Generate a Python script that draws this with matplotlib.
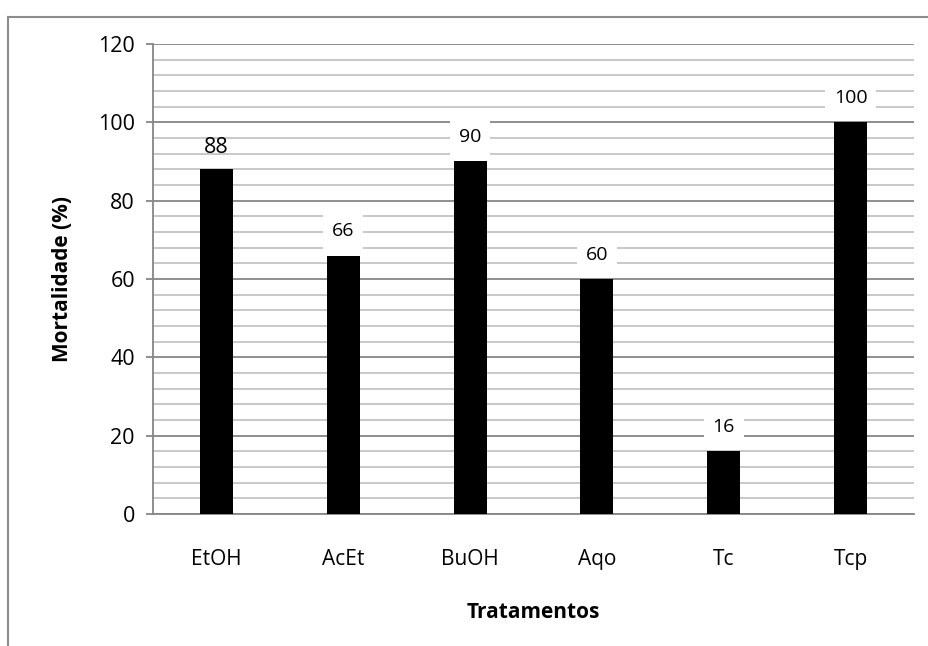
import matplotlib.pyplot as plt
from matplotlib.lines import Line2D

# Mortalidade por tratamento
tratamentos = ["EtOH", "AcEt", "BuOH", "Aqo", "Tc", "Tcp"]
mortalidade = [88, 66, 90, 60, 16, 100]
yticks = [0, 20, 40, 60, 80, 100, 120]

plt.rcParams["font.family"] = ["Open Sans", "DejaVu Sans"]

fig = plt.figure(figsize=(9.29, 6.46), dpi=100)
ax = fig.add_axes([0.1647, 0.2043, 0.8192, 0.7276])

major_col = "#868686"
minor_col = "#c4c4c4"

xlocs = list(range(len(tratamentos)))
ax.bar(xlocs, mortalidade, width=0.26, color="black", zorder=3)

ax.set_xlim(-0.5, len(tratamentos) - 0.5)
ax.set_ylim(0, 120)
ax.set_yticks(yticks)
ax.set_yticks(range(0, 121, 4), minor=True)
ax.set_xticks(xlocs)
ax.set_xticklabels(tratamentos)

ax.grid(axis="y", which="minor", color=minor_col, lw=1.3, zorder=0)
ax.grid(axis="y", which="major", color=major_col, lw=1.3, zorder=1)
ax.set_axisbelow(True)

for s in ["top", "right"]:
    ax.spines[s].set_visible(False)
ax.spines["left"].set_color(major_col)
ax.spines["left"].set_linewidth(1.3)
ax.spines["bottom"].set_color(major_col)
ax.spines["bottom"].set_linewidth(1.3)

ax.tick_params(axis="y", which="major", length=5, width=1.3, color=major_col,
               labelsize=15.5, pad=8)
ax.tick_params(axis="y", which="minor", length=0)
ax.tick_params(axis="x", length=0, labelsize=15, pad=25)

# value labels above the bars
for i, v in enumerate(mortalidade):
    if i == 0:
        ax.annotate(str(v), (i, v), xytext=(0, 16), textcoords="offset points",
                    ha="center", va="center", fontsize=15.5, zorder=5)
    else:
        ax.annotate(str(v), (i, v), xytext=(0, 17.5), textcoords="offset points",
                    ha="center", va="center", fontsize=14, zorder=5,
                    bbox=dict(boxstyle="square,pad=0.45", fc="white", ec="none"))

ax.set_ylabel("Mortalidade (%)", fontsize=15, fontweight="bold", labelpad=18)
ax.set_xlabel("Tratamentos", fontsize=15, fontweight="bold", labelpad=23)

# outer chart frame
fig.add_artist(Line2D([8 / 929, 8 / 929], [0, 1 - 17 / 646], color="#8c8c8c", lw=1.5))
fig.add_artist(Line2D([8 / 929, 1], [1 - 17 / 646, 1 - 17 / 646], color="#8c8c8c", lw=1.5))

plt.savefig("out.png", dpi=100)
